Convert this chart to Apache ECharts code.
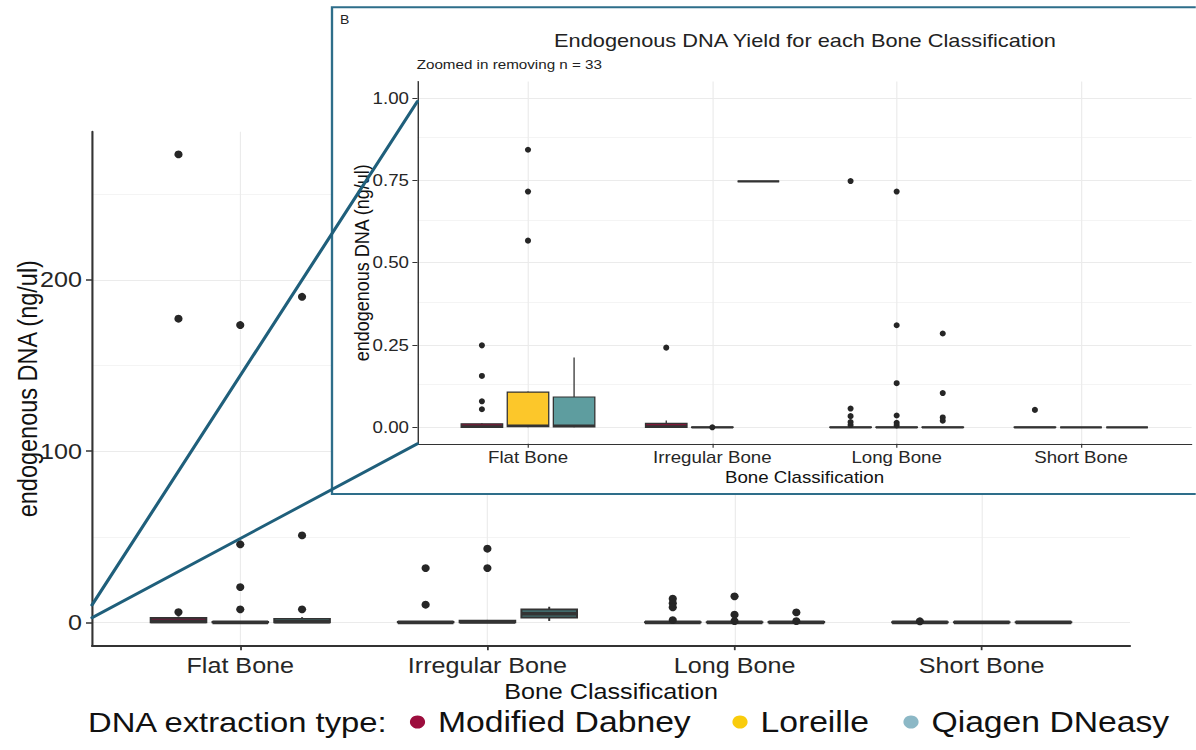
<!DOCTYPE html>
<html>
<head>
<meta charset="utf-8">
<script src="https://cdn.jsdelivr.net/npm/echarts@6/dist/echarts.min.js"></script>
<style>
html,body{margin:0;padding:0;background:#fff;overflow:hidden}
#wrap{width:1196px;height:750px;overflow:hidden;position:relative}
#chart{height:750px;transform-origin:0 0}
</style>
</head>
<body>
<div id="wrap"><div id="chart"></div></div>
<script>
// ---------------- DATA ----------------
const categories = ['Flat Bone', 'Irregular Bone', 'Long Bone', 'Short Bone'];
const methods = ['Modified Dabney', 'Loreille', 'Qiagen DNeasy'];

// main panel: box stats per category [low whisker, Q1, median, Q3, high whisker]
const mainDabneyBox   = [[0, 0, 0.5, 2.6, 3.5], [0, 0, 0, 0.3, 0.5], [0, 0, 0, 0.2, 0.4], [0, 0, 0, 0.2, 0.3]];
const mainLoreilleBox = [[0, 0, 0, 0.3, 0.5], [0, 0, 0.2, 1.0, 1.4], [0, 0, 0, 0.2, 0.4], [0, 0, 0, 0.1, 0.1]];
const mainQiagenBox   = [[0, 0, 0.3, 2.1, 3.0], [0.8, 2.7, 5.0, 7.6, 9.1], [0, 0, 0, 0.3, 0.5], [0, 0, 0, 0.1, 0.1]];
// main panel outliers per category
const mainDabneyOut   = [[273.4, 177.4, 6.0], [31.7, 10.3], [13.8, 11.2, 8.8, 1.3], [0.6]];
const mainLoreilleOut = [[173.7, 45.6, 20.6, 7.6], [43.0, 31.7], [15.2, 4.5, 0.7], []];
const mainQiagenOut   = [[190.2, 50.8, 7.6], [], [5.8, 0.7], []];

// inset (zoomed) panel
const insetDabneyBox   = [[0, 0, 0.003, 0.011, 0.013], [0, 0, 0.003, 0.012, 0.021], [0, 0, 0, 0.001, 0.002], [0, 0, 0, 0.001, 0.001]];
const insetLoreilleBox = [[0, 0.002, 0.005, 0.107, 0.109], [0, 0, 0, 0.001, 0.001], [0, 0, 0, 0.001, 0.002], [0, 0, 0, 0, 0]];
const insetQiagenBox   = [[0, 0.001, 0.005, 0.092, 0.212], [0.747, 0.747, 0.747, 0.747, 0.747], [0, 0, 0, 0.001, 0.001], [0, 0, 0, 0, 0]];
const insetDabneyOut   = [[0.249, 0.156, 0.079, 0.055], [0.242], [0.748, 0.057, 0.034, 0.016, 0.007], [0.053]];
const insetLoreilleOut = [[0.843, 0.716, 0.567], [0.0], [0.716, 0.310, 0.134, 0.036, 0.014, 0.006], []];
const insetQiagenOut   = [[], [], [0.285, 0.104, 0.030, 0.020], []];

// tick labels
const mainYTicks = [0, 100, 200];
const mainYMinor = [50, 150, 250];
const insetYTicks = [0, 0.25, 0.5, 0.75, 1.0];
const insetYMinor = [0.125, 0.375, 0.625, 0.875];
const xTicks = [1, 2, 3, 4];

// ---------------- STYLE / LAYOUT ----------------
const S = 1.17;                 // horizontal stretch of the reference picture
const DW = 1196 / S;            // design width
const X = v => v / S;           // reference px -> design px (horizontal)
const FONT = "'Liberation Sans', Arial, Helvetica, sans-serif";
const mainFills = ['#6a1d3a', '#e0b02a', '#416a6b'];
const insetFills = ['#7e1838', '#fcc72a', '#5e9d9f'];
const legendColors = ['#9c0d3d', '#f9cc0c', '#8cb8c6'];
const OFFSETS = [-0.25, 0, 0.25];
const BOX_W = 0.225;
const INK = '#333333';

const el = document.getElementById('chart');
el.style.width = DW + 'px';
el.style.transform = 'scaleX(' + S + ')';
const chart = echarts.init(el, null, { renderer: 'svg', width: DW, height: 750 });

function boxData(stats, m) {
  return stats.map((s, c) => [c + 1 + OFFSETS[m]].concat(s));
}
function outData(outs, m) {
  const d = [];
  outs.forEach((arr, c) => arr.forEach(v => d.push([c + 1 + OFFSETS[m], v])));
  return d;
}
function makeRender(fill, bw, mw) {
  return function (params, api) {
    const x = api.value(0);
    const pLow = api.coord([x, api.value(1)]);
    const pQ1 = api.coord([x, api.value(2)]);
    const pMed = api.coord([x, api.value(3)]);
    const pQ3 = api.coord([x, api.value(4)]);
    const pHigh = api.coord([x, api.value(5)]);
    const w = api.size([BOX_W, 0])[0];
    const cx = pLow[0];
    const ls = { stroke: INK, lineWidth: bw };
    return {
      type: 'group',
      children: [
        { type: 'line', shape: { x1: cx, y1: pHigh[1], x2: cx, y2: pQ3[1] }, style: ls },
        { type: 'line', shape: { x1: cx, y1: pQ1[1], x2: cx, y2: pLow[1] }, style: ls },
        { type: 'rect', shape: { x: cx - w / 2, y: pQ3[1], width: w, height: Math.max(pQ1[1] - pQ3[1], 0) },
          style: { fill: fill, stroke: INK, lineWidth: bw } },
        { type: 'line', shape: { x1: cx - w / 2, y1: pMed[1], x2: cx + w / 2, y2: pMed[1] },
          style: { stroke: INK, lineWidth: mw } }
      ]
    };
  };
}
function gridLines(xi, major, minor, z) {
  const data = [];
  major.forEach(v => data.push({ yAxis: v, lineStyle: { color: '#ebebeb', width: 1.2, type: 'solid' } }));
  minor.forEach(v => data.push({ yAxis: v, lineStyle: { color: '#f2f2f2', width: 0.8, type: 'solid' } }));
  xTicks.forEach(v => data.push({ xAxis: v, lineStyle: { color: '#ebebeb', width: 1.0, type: 'solid' } }));
  return {
    type: 'line', xAxisIndex: xi, yAxisIndex: xi, data: [], silent: true, z: z,
    markLine: { z: z, silent: true, symbol: ['none', 'none'], label: { show: false },
      emphasis: { disabled: true }, data: data }
  };
}

const mainBoxes = [mainDabneyBox, mainLoreilleBox, mainQiagenBox];
const mainOuts = [mainDabneyOut, mainLoreilleOut, mainQiagenOut];
const insetBoxes = [insetDabneyBox, insetLoreilleBox, insetQiagenBox];
const insetOuts = [insetDabneyOut, insetLoreilleOut, insetQiagenOut];

const series = [gridLines(0, mainYTicks, mainYMinor, 1)];
methods.forEach((m, i) => {
  series.push({ type: 'custom', name: m, xAxisIndex: 0, yAxisIndex: 0, z: 2,
    itemStyle: { color: legendColors[i] },
    renderItem: makeRender(mainFills[i], 1.7, 3.6), encode: { x: 0, y: [1, 2, 3, 4, 5] },
    data: boxData(mainBoxes[i], i) });
});
methods.forEach((m, i) => {
  series.push({ type: 'scatter', name: m, xAxisIndex: 0, yAxisIndex: 0, z: 3,
    symbolSize: [7, 7.8], itemStyle: { color: '#262626', opacity: 1 },
    data: outData(mainOuts[i], i) });
});
series.push(gridLines(1, insetYTicks, insetYMinor, 55));
methods.forEach((m, i) => {
  series.push({ type: 'custom', name: m, xAxisIndex: 1, yAxisIndex: 1, z: 60,
    itemStyle: { color: legendColors[i] },
    renderItem: makeRender(insetFills[i], 1.1, 2.4), encode: { x: 0, y: [1, 2, 3, 4, 5] },
    data: boxData(insetBoxes[i], i) });
});
methods.forEach((m, i) => {
  series.push({ type: 'scatter', name: m, xAxisIndex: 1, yAxisIndex: 1, z: 61,
    symbolSize: [5.2, 6], itemStyle: { color: '#262626', opacity: 1 },
    data: outData(insetOuts[i], i) });
});

const circleCx = [X(417.5), X(740), X(911)];
const legends = methods.map((m, i) => ({
  data: [{ name: m, icon: 'circle', itemStyle: { color: legendColors[i], borderWidth: 0 } }],
  left: circleCx[i] - 6.5, top: 707, itemWidth: 13, itemHeight: 13, selectedMode: false,
  padding: 0, itemGap: 0,
  textStyle: { fontSize: 28.8, color: '#111', fontFamily: FONT, padding: [0, 0, 0, 6], lineHeight: 30 }
}));

const baseGraphic = [
  { id: 'frame', type: 'rect', z: 50, silent: true,
    shape: { x: X(332), y: 7.3, width: DW, height: 494 - 7.3 },
    style: { fill: '#ffffff', stroke: '#2e6e8a', lineWidth: 2 } },
  { id: 'tB', type: 'text', z: 70, x: X(340), y: 20,
    style: { text: 'B', fontSize: 12, fontFamily: FONT, fill: '#222', align: 'left', verticalAlign: 'middle' } },
  { id: 'tTitle', type: 'text', z: 70, x: X(805), y: 40.5,
    style: { text: 'Endogenous DNA Yield for each Bone Classification', fontSize: 18.6, fontFamily: FONT,
      fill: '#222', align: 'center', verticalAlign: 'middle' } },
  { id: 'tSub', type: 'text', z: 70, x: X(416.7), y: 64,
    style: { text: 'Zoomed in removing n = 33', fontSize: 13, fontFamily: FONT, fill: '#222',
      align: 'left', verticalAlign: 'middle' } },
  { id: 'tLeg', type: 'text', z: 70, x: X(88), y: 722,
    style: { text: 'DNA extraction type:', fontSize: 28, fontFamily: FONT, fill: '#111',
      align: 'left', verticalAlign: 'middle' } }
];

const axisCommon = (z, lw) => ({
  z: z,
  nameMoveOverlap: false,
  axisLine: { show: true, onZero: false, lineStyle: { color: INK, width: lw } },
  splitLine: { show: false }
});

const option = {
  animation: false,
  textStyle: { fontFamily: FONT },
  grid: [
    { left: X(92), top: 131.7, width: X(1130 - 92), height: 645.7 - 131.7,
      containLabel: false, outerBoundsMode: 'none' },
    { left: X(417.4), top: 81.6, width: X(1191.6 - 417.4), height: 443.8 - 81.6,
      containLabel: false, outerBoundsMode: 'none' }
  ],
  xAxis: [
    Object.assign(axisCommon(3, 1.8), {
      gridIndex: 0, type: 'value', min: 0.4, max: 4.6,
      axisTick: { show: true, customValues: xTicks, length: 4.5, lineStyle: { color: INK, width: 1.5 } },
      axisLabel: { customValues: xTicks, formatter: v => categories[Math.round(v) - 1],
        fontSize: 21.5, color: '#262626', margin: 9 },
      name: 'Bone Classification', nameLocation: 'middle', nameGap: 35,
      nameTextStyle: { fontSize: 21.5, color: '#111' }
    }),
    Object.assign(axisCommon(62, 1.2), {
      gridIndex: 1, type: 'value', min: 0.4, max: 4.6,
      axisTick: { show: true, customValues: xTicks, length: 4, lineStyle: { color: INK, width: 1 } },
      axisLabel: { customValues: xTicks, formatter: v => categories[Math.round(v) - 1],
        fontSize: 16, color: '#262626', margin: 6 },
      name: 'Bone Classification', nameLocation: 'middle', nameGap: 26,
      nameTextStyle: { fontSize: 16, color: '#111' }
    })
  ],
  yAxis: [
    Object.assign(axisCommon(3, 1.8), {
      gridIndex: 0, type: 'value', min: -13.65, max: 286.65,
      axisTick: { show: true, customValues: mainYTicks, length: X(6), lineStyle: { color: INK, width: 1.5 } },
      axisLabel: { customValues: mainYTicks, fontSize: 21.5, color: '#262626', margin: X(10) },
      name: 'endogenous DNA (ng/ul)', nameLocation: 'middle', nameGap: 43,
      nameTextStyle: { fontSize: 23.5, color: '#111' }
    }),
    Object.assign(axisCommon(62, 1.2), {
      gridIndex: 1, type: 'value', min: -0.05, max: 1.05,
      axisTick: { show: true, customValues: insetYTicks, length: X(5), lineStyle: { color: INK, width: 1 } },
      axisLabel: { customValues: insetYTicks, formatter: v => v.toFixed(2),
        fontSize: 16, color: '#262626', margin: X(8.4) },
      name: 'endogenous DNA (ng/ul)', nameLocation: 'middle', nameGap: 39,
      nameTextStyle: { fontSize: 18, color: '#111' }
    })
  ],
  legend: legends,
  graphic: { elements: baseGraphic },
  series: series
};
chart.setOption(option);

// zoom connector lines, placed through the two panels' own scales
const a1 = chart.convertToPixel({ xAxisIndex: 0, yAxisIndex: 0 }, [0.4, 10.1]);
const a2 = chart.convertToPixel({ xAxisIndex: 0, yAxisIndex: 0 }, [0.4, 2.7]);
const b1 = chart.convertToPixel({ xAxisIndex: 1, yAxisIndex: 1 }, [0.4, 0.99]);
const b2 = chart.convertToPixel({ xAxisIndex: 1, yAxisIndex: 1 }, [0.4, -0.05]);
chart.setOption({
  graphic: { elements: baseGraphic.concat([
    { id: 'zl1', type: 'line', z: 100, silent: true,
      shape: { x1: a1[0], y1: a1[1], x2: b1[0], y2: b1[1] },
      style: { stroke: '#1f5f7b', lineWidth: 2.8, lineCap: 'round' } },
    { id: 'zl2', type: 'line', z: 100, silent: true,
      shape: { x1: a2[0], y1: a2[1], x2: b2[0], y2: b2[1] },
      style: { stroke: '#1f5f7b', lineWidth: 2.8, lineCap: 'round' } }
  ]) }
});
</script>
</body>
</html>
